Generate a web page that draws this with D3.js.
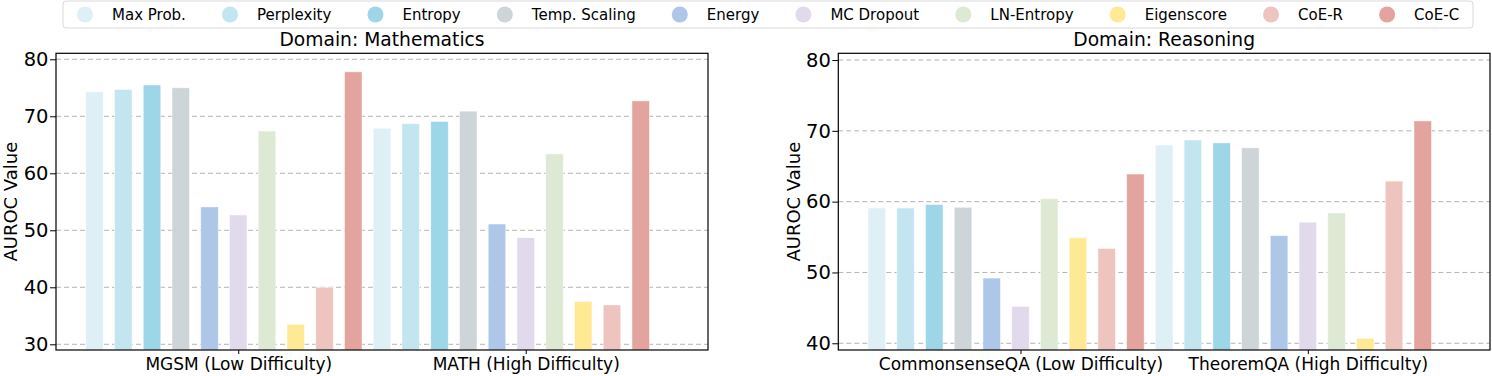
<!DOCTYPE html>
<html><head><meta charset="utf-8">
<script src="https://cdn.jsdelivr.net/npm/d3@7"></script>
<style>body{margin:0;background:#fff;} text{font-family:"DejaVu Sans",sans-serif;fill:#000;}</style>
</head><body><svg id="c" width="1492" height="376"></svg>
<script>
const methods = ["Max Prob.", "Perplexity", "Entropy", "Temp. Scaling", "Energy", "MC Dropout", "LN-Entropy", "Eigenscore", "CoE-R", "CoE-C"];
const colors = ["#dfeff6", "#c3e5f0", "#9dd6e7", "#cdd5d9", "#aec6e8", "#e1d9ec", "#dde9d3", "#feea95", "#eec5be", "#e3a49f"];

const mathTitle = "Domain: Mathematics";
const mathCategories = ["MGSM (Low Difficulty)", "MATH (High Difficulty)"];
const mathMGSM = [74.3, 74.7, 75.5, 75.0, 54.1, 52.7, 67.4, 33.5, 40.0, 77.8];
const mathMATH = [67.9, 68.7, 69.1, 70.9, 51.1, 48.7, 63.4, 37.5, 36.9, 72.7];
const mathTicks = [30, 40, 50, 60, 70, 80];

const reasonTitle = "Domain: Reasoning";
const reasonCategories = ["CommonsenseQA (Low Difficulty)", "TheoremQA (High Difficulty)"];
const reasonCSQA = [59.1, 59.1, 59.6, 59.2, 49.2, 45.2, 60.4, 54.9, 53.4, 63.9];
const reasonTheorem = [68.0, 68.7, 68.3, 67.6, 55.2, 57.1, 58.4, 40.7, 62.9, 71.4];
const reasonTicks = [40, 50, 60, 70, 80];

const svg = d3.select("#c");

function panel(opt) {
  const top = 53.3, bottom = 350;
  const x = d3.scaleLinear().domain([-0.634, 1.634]).range([opt.x0, opt.x1]);
  const y = d3.scaleLinear().domain(opt.yDomain).range([bottom, top]);
  const g = svg.append("g");
  // grid
  g.append("g").selectAll("line").data(opt.ticks).join("line")
    .attr("x1", opt.x0).attr("x2", opt.x1)
    .attr("y1", d => y(d)).attr("y2", d => y(d))
    .attr("stroke", "#b4b4b4").attr("stroke-width", 1).attr("stroke-dasharray", "5,3");
  // bars
  const bw = 0.061;
  opt.series.forEach((vals, gi) => {
    g.append("g").selectAll("rect").data(vals).join("rect")
      .attr("x", (d, i) => x(gi + (i - 5) * 0.1 - bw / 2))
      .attr("width", x(bw) - x(0))
      .attr("y", d => y(d))
      .attr("height", d => bottom - y(d))
      .attr("fill", (d, i) => colors[i])
      .attr("stroke", "#ffffff").attr("stroke-opacity", 0.6).attr("stroke-width", 0.8);
  });
  // axes
  const ya = g.append("g").attr("transform", `translate(${opt.x0},0)`)
    .call(d3.axisLeft(y).tickValues(opt.ticks).tickSize(6).tickPadding(1.5).tickFormat(d3.format("d")));
  ya.select(".domain").remove();
  ya.selectAll("text").style("font-size", "19.5px").style("font-family", "DejaVu Sans");
  ya.selectAll("line").attr("stroke", "#000").attr("stroke-width", 1);
  const xa = g.append("g").attr("transform", `translate(0,${bottom})`)
    .call(d3.axisBottom(x).tickValues([0, 1]).tickSize(4).tickPadding(4).tickFormat(i => opt.cats[i]));
  xa.select(".domain").remove();
  xa.selectAll("text").style("font-size", "17px").style("font-family", "DejaVu Sans");
  // frame
  g.append("rect").attr("x", opt.x0).attr("y", top).attr("width", opt.x1 - opt.x0).attr("height", bottom - top)
    .attr("fill", "none").attr("stroke", "#000").attr("stroke-width", 1.2);
  // title
  g.append("text").attr("x", (opt.x0 + opt.x1) / 2).attr("y", 46).attr("text-anchor", "middle")
    .style("font-size", "18.7px").text(opt.title);
  // y label
  g.append("text").attr("transform", `translate(${opt.labelX},${(top + bottom) / 2}) rotate(-90)`)
    .attr("text-anchor", "middle").style("font-size", "18px").text("AUROC Value");
}

panel({x0: 56, x1: 708, yDomain: [29, 81.05], ticks: mathTicks, series: [mathMGSM, mathMATH],
       cats: mathCategories, title: mathTitle, labelX: 17});
panel({x0: 838.3, x1: 1490, yDomain: [39.05, 80.95], ticks: reasonTicks, series: [reasonCSQA, reasonTheorem],
       cats: reasonCategories, title: reasonTitle, labelX: 800});

// legend
const lg = svg.append("g");
lg.append("rect").attr("x", 63).attr("y", 1).attr("width", 1410).attr("height", 27).attr("rx", 3)
  .attr("fill", "#fff").attr("stroke", "#d9d9d9").attr("stroke-width", 1);
let cx = 85;
methods.forEach((m, i) => {
  lg.append("circle").attr("cx", cx).attr("cy", 14.5).attr("r", 8).attr("fill", colors[i]);
  const t = lg.append("text").attr("x", cx + 27).attr("y", 14.5).attr("dy", "0.35em")
    .style("font-size", "15px").text(m);
  const w = t.node().getComputedTextLength();
  cx = cx + 27 + w + 44.1;
});
</script></body></html>
